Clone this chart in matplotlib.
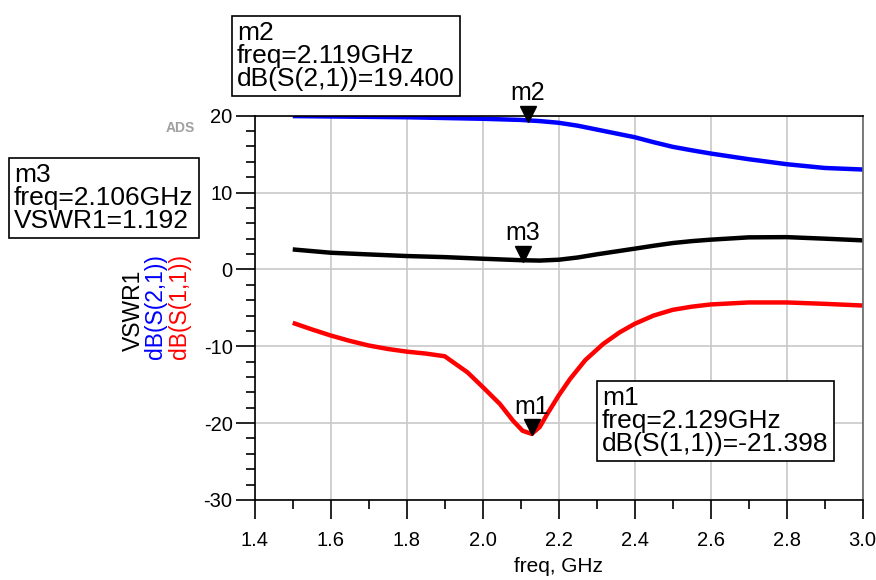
import matplotlib
matplotlib.use("Agg")
import matplotlib.pyplot as plt
import matplotlib.transforms as mtransforms
from matplotlib.ticker import MultipleLocator

plt.rcParams['font.family'] = ['Liberation Sans', 'DejaVu Sans']
plt.rcParams['axes.unicode_minus'] = False

# dB(S(2,1))
freq_s21 = [1.5, 1.6, 1.7, 1.8, 1.9, 2.0, 2.1, 2.15, 2.2, 2.25, 2.3, 2.35, 2.4,
            2.45, 2.5, 2.55, 2.6, 2.7, 2.8, 2.9, 3.0]
s21 = [19.95, 19.9, 19.85, 19.8, 19.7, 19.6, 19.45, 19.3, 19.08, 18.7, 18.2, 17.7,
       17.2, 16.55, 15.95, 15.5, 15.08, 14.34, 13.69, 13.2, 13.0]

# VSWR1
freq_vswr = [1.5, 1.6, 1.7, 1.8, 1.9, 2.0, 2.1, 2.15, 2.2, 2.25, 2.3, 2.35, 2.4,
             2.45, 2.5, 2.55, 2.6, 2.7, 2.8, 2.9, 3.0]
vswr = [2.6, 2.17, 1.95, 1.74, 1.6, 1.39, 1.2, 1.15, 1.26, 1.55, 1.96, 2.33, 2.7,
        3.08, 3.43, 3.68, 3.87, 4.17, 4.2, 4.0, 3.78]

# dB(S(1,1))
freq_s11 = [1.5, 1.55, 1.6, 1.65, 1.7, 1.75, 1.8, 1.85, 1.9, 1.96, 2.0, 2.045,
            2.08, 2.105, 2.129, 2.15, 2.17, 2.2, 2.23, 2.27, 2.317, 2.36, 2.4,
            2.45, 2.5, 2.55, 2.6, 2.7, 2.8, 2.9, 3.0]
s11 = [-6.95, -7.8, -8.6, -9.3, -9.9, -10.35, -10.7, -10.95, -11.3, -13.4, -15.3,
       -17.5, -19.7, -21.0, -21.4, -20.5, -18.8, -16.4, -14.25, -11.8, -9.7, -8.2,
       -7.08, -6.0, -5.26, -4.85, -4.56, -4.3, -4.3, -4.48, -4.7]

# markers: name, freq, value
markers = [("m1", 2.129, -21.398), ("m2", 2.119, 19.400), ("m3", 2.106, 1.192)]

fig = plt.figure(figsize=(8.76, 5.8), dpi=100)
ax = fig.add_axes([0.2908, 0.138, 0.694, 0.6625])

ax.plot(freq_s21, s21, color='#0000ff', lw=3.2, solid_capstyle='butt')
ax.plot(freq_vswr, vswr, color='black', lw=3.2, solid_capstyle='butt')
ax.plot(freq_s11, s11, color='#ff0000', lw=3.2, solid_capstyle='butt')

ax.set_xlim(1.4, 3.0)
ax.set_ylim(-30, 20)
ax.xaxis.set_major_locator(MultipleLocator(0.2))
ax.xaxis.set_minor_locator(MultipleLocator(0.1))
ax.yaxis.set_major_locator(MultipleLocator(10))
ax.yaxis.set_minor_locator(MultipleLocator(2))
ax.xaxis.set_major_formatter(plt.FuncFormatter(lambda v, p: f"{v:.1f}"))
ax.yaxis.set_major_formatter(plt.FuncFormatter(lambda v, p: f"{v:.0f}"))
ax.grid(True, which='major', color='#c8c8c8', lw=1.2)
ax.set_axisbelow(True)
ax.tick_params(which='major', direction='out', length=14, width=1.2,
               labelsize=14.5, pad=2, colors='black')
ax.tick_params(which='minor', direction='out', length=6.5, width=1.2)
ax.tick_params(axis='x', pad=8)
for side in ['left', 'bottom', 'top']:
    ax.spines[side].set_color('black')
    ax.spines[side].set_linewidth(1.2)
ax.spines['right'].set_color('#666666')
ax.spines['right'].set_linewidth(1.2)

fig.text(0.5 * (254.7 + 862.7) / 876, 1 - 566 / 580, "freq, GHz",
         fontsize=15, ha='center', va='center')

# stacked y labels
fig.text(133 / 876, 1 - 310 / 580, "VSWR1", rotation=90, fontsize=16.5,
         color='black', ha='center', va='center')
fig.text(156 / 876, 1 - 307 / 580, "dB(S(2,1))", rotation=90, fontsize=16.5,
         color='#0000ff', ha='center', va='center')
fig.text(180 / 876, 1 - 306 / 580, "dB(S(1,1))", rotation=90, fontsize=16.5,
         color='#ff0000', ha='center', va='center')

fig.text(180 / 876, 1 - 128 / 580, "ADS", fontsize=10, color='#a0a0a0',
         fontweight='bold', ha='center', va='center')

# marker triangles and labels
tri_off = mtransforms.offset_copy(ax.transData, fig=fig, x=0, y=4.7, units='points')
for name, fx, fy in markers:
    ax.plot([fx], [fy], marker='v', color='black', ms=11, transform=tri_off,
            clip_on=False, zorder=5)
    ax.annotate(name, (fx, fy), xytext=(0, 14.5), textcoords='offset points',
                ha='center', va='baseline', fontsize=18, annotation_clip=False)

# marker readout boxes
box = dict(boxstyle='square,pad=0.2', fc='white', ec='black', lw=1.2)
fig.text(237 / 876, 1 - 56 / 580, "m2\nfreq=2.119GHz\ndB(S(2,1))=19.400",
         fontsize=19, linespacing=0.95, ha='left', va='center', bbox=box)
fig.text(14 / 876, 1 - 198 / 580, "m3\nfreq=2.106GHz\nVSWR1=1.192",
         fontsize=19, linespacing=0.95, ha='left', va='center', bbox=box)
fig.text(602 / 876, 1 - 421 / 580, "m1\nfreq=2.129GHz\ndB(S(1,1))=-21.398",
         fontsize=19, linespacing=0.95, ha='left', va='center', bbox=box)

fig.savefig("out.png", dpi=100)
